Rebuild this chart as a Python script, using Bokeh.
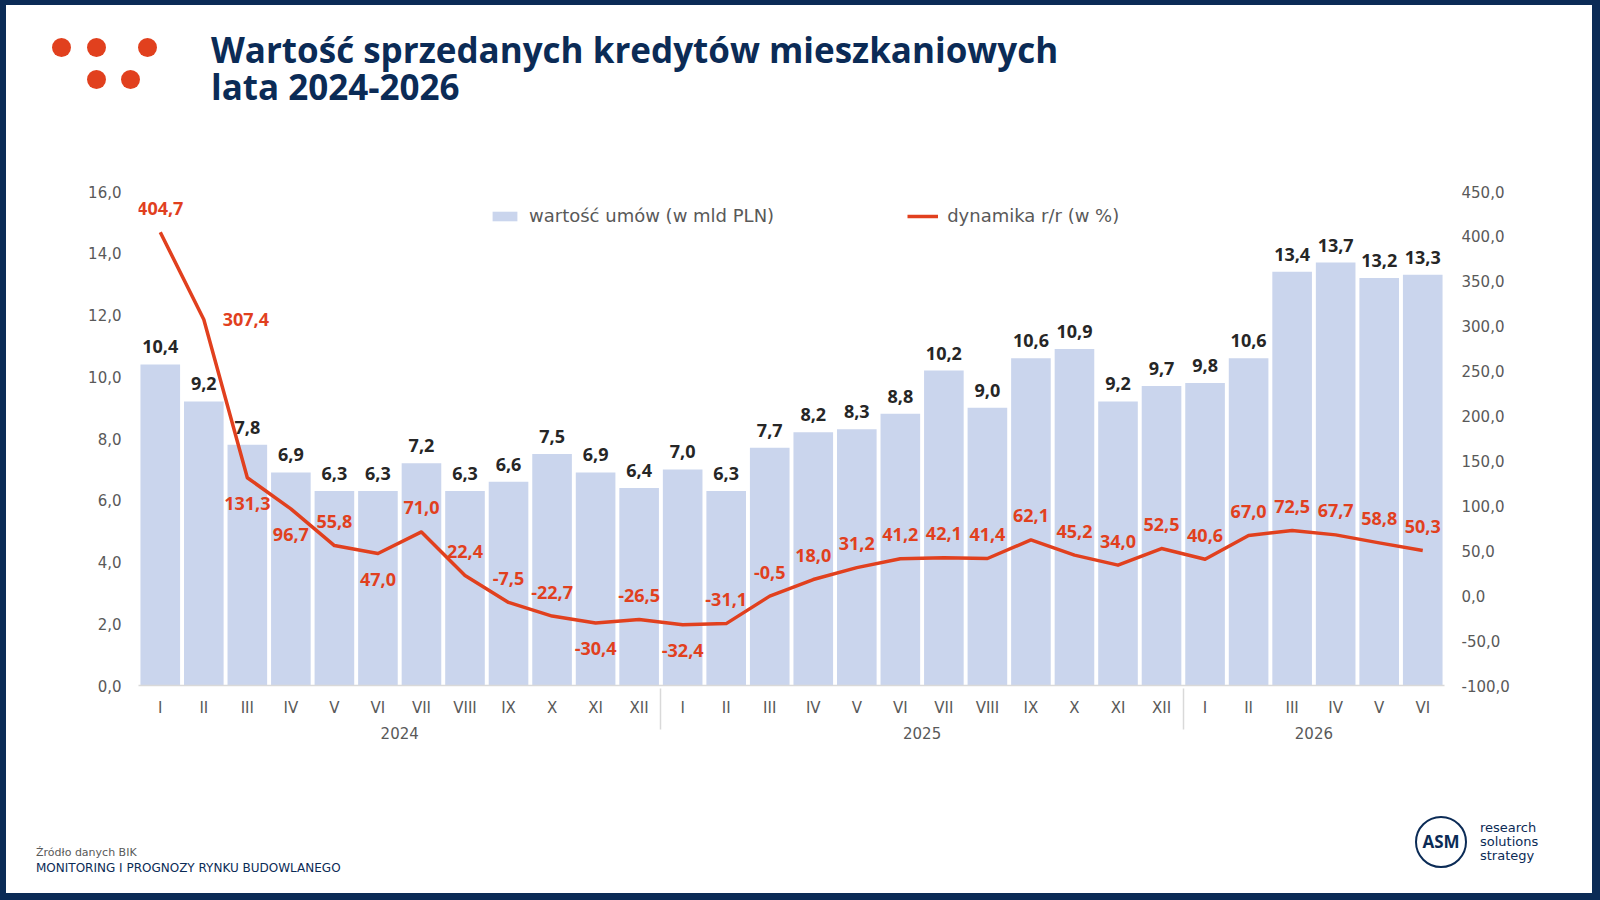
from bokeh.plotting import figure
from bokeh.layouts import row, column
from bokeh.models import (ColumnDataSource, FactorRange, Range1d, LinearAxis, FixedTicker,
                          CustomJSTickFormatter, LabelSet, Legend, LegendItem, Div)
from bokeh.core.properties import value
from bokeh.embed import file_html
from bokeh.resources import INLINE

# data
years = ["2024", "2025", "2026"]
months = ["I", "II", "III", "IV", "V", "VI", "VII", "VIII", "IX", "X", "XI", "XII"]
months_per_year = [12, 12, 6]
wartosc = [10.4, 9.2, 7.8, 6.9, 6.3, 6.3, 7.2, 6.3, 6.6, 7.5, 6.9, 6.4,
           7.0, 6.3, 7.7, 8.2, 8.3, 8.8, 10.2, 9.0, 10.6, 10.9, 9.2, 9.7,
           9.8, 10.6, 13.4, 13.7, 13.2, 13.3]
dynamika = [404.7, 307.4, 131.3, 96.7, 55.8, 47.0, 71.0, 22.4, -7.5, -22.7, -30.4, -26.5,
            -32.4, -31.1, -0.5, 18.0, 31.2, 41.2, 42.1, 41.4, 62.1, 45.2, 34.0, 52.5,
            40.6, 67.0, 72.5, 67.7, 58.8, 50.3]
left_ticks = [0, 2, 4, 6, 8, 10, 12, 14, 16]
right_ticks = [-100, -50, 0, 50, 100, 150, 200, 250, 300, 350, 400, 450]

# where each % label sits relative to its point (a=above, b=below, r=right)
dyn_side = ["a", "r", "b", "b", "a", "b", "a", "a", "a", "a", "b", "a",
            "b", "a", "a", "a", "a", "a", "a", "a", "a", "a", "a", "a",
            "a", "a", "a", "a", "a", "a"]

NAVY = "#0b2b56"
RED = "#e1401e"
BAR = "#cad5ed"
GRAY = "#595959"
BOLD_FONT = "Open Sans"
FONT = "DejaVu Sans"

# page split: strips left/right, header / chart / footer in between
SL, SR = 6, 8
IW = 1600 - SL - SR
H1, H2, H3 = 130, 655, 115


def fmt(v):
    return f"{v:.1f}".replace(".", ",")


factors = [(y, m) for y, n in zip(years, months_per_year) for m in months[:n]]

offx = {"a": 0, "b": 0, "r": 42}
offy = {"a": 24, "b": -26, "r": 0}

src = ColumnDataSource(data=dict(
    x=factors,
    top=wartosc,
    dyn=dynamika,
    top_txt=[fmt(v) for v in wartosc],
    dyn_txt=[fmt(v) for v in dynamika],
    dx=[offx[s] for s in dyn_side],
    dy=[offy[s] for s in dyn_side],
))


def box(x, y, w, h, extra=""):
    return (f'<div style="position:absolute;left:{x}px;top:{y}px;width:{w}px;'
            f'height:{h}px;{extra}"></div>')


def txt(x, y, s, extra):
    return (f'<div style="position:absolute;left:{x}px;top:{y}px;'
            f'white-space:nowrap;{extra}">{s}</div>')


# header: top border, dots, title
dots = [(61, 47), (96, 47), (147, 47), (96, 79), (130, 79)]
head_html = box(-SL, 0, 1600, 5, f"background:{NAVY}")
for cx, cy in dots:
    head_html += box(cx - SL - 9.5, cy - 9.5, 19, 19, f"border-radius:50%;background:{RED}")
title_style = (f"font-family:'{BOLD_FONT}';font-weight:bold;font-size:35px;"
               f"line-height:34px;height:34px;color:{NAVY}")
head_html += txt(211 - SL, 32.5, "Wartość sprzedanych kredytów mieszkaniowych", title_style)
head_html += txt(211 - SL, 69.5, "lata 2024-2026", title_style)
header = Div(text=f'<div style="position:relative;width:{IW}px;height:{H1}px;'
                  f'overflow:hidden;background:white">{head_html}</div>',
             width=IW, height=H1, margin=0)

# main chart
p = figure(width=IW, height=H2,
           x_range=FactorRange(*factors, factor_padding=0, group_padding=0,
                               subgroup_padding=0, range_padding=0),
           y_range=Range1d(0, 16),
           output_backend="svg", toolbar_location=None,
           min_border_left=138 - SL, min_border_right=IW - (1444 - SL),
           min_border_top=191 - H1, min_border_bottom=H2 - (685 - H1))
p.outline_line_color = None
p.xgrid.grid_line_color = None
p.ygrid.grid_line_color = None

p.extra_y_ranges = {"dyn": Range1d(-100, 450)}

tick_fmt = CustomJSTickFormatter(code="return tick.toFixed(1).replace('.', ',');")

ya = p.yaxis[0]
ya.ticker = FixedTicker(ticks=left_ticks)
ya.formatter = tick_fmt
ra = LinearAxis(y_range_name="dyn", ticker=FixedTicker(ticks=right_ticks), formatter=tick_fmt)
p.add_layout(ra, "right")
for ax in (ya, ra):
    ax.axis_line_color = None
    ax.major_tick_line_color = None
    ax.minor_tick_line_color = None
    ax.major_label_standoff = 11
    ax.major_label_text_font = FONT
    ax.major_label_text_font_size = "15px"
    ax.major_label_text_color = GRAY

xa = p.xaxis[0]
xa.axis_line_color = "#d9d9d9"
xa.axis_line_width = 1.5
xa.major_tick_line_color = None
xa.minor_tick_line_color = None
xa.major_label_standoff = 7
xa.major_label_text_font = FONT
xa.major_label_text_font_size = "15px"
xa.major_label_text_line_height = 1.8
xa.major_label_text_color = GRAY
xa.group_text_font = FONT
xa.group_text_font_size = "15px"
xa.group_text_font_style = "normal"
xa.group_text_color = GRAY
if hasattr(xa, "separator_line_color"):
    xa.separator_line_color = "#d9d9d9"
    xa.separator_line_width = 1.5

bars = p.vbar(x="x", top="top", width=0.91, source=src, color=BAR, line_color=None)
line = p.line(x="x", y="dyn", source=src, y_range_name="dyn",
              line_color=RED, line_width=3.5, line_join="round")

p.add_layout(LabelSet(x="x", y="top", text="top_txt", source=src, y_offset=11,
                      text_align="center", text_baseline="alphabetic",
                      text_font=value(BOLD_FONT), text_font_size="18px", text_font_style="bold",
                      text_color="#262626"))
p.add_layout(LabelSet(x="x", y="dyn", text="dyn_txt", source=src, y_range_name="dyn",
                      x_offset="dx", y_offset="dy",
                      text_align="center", text_baseline="middle",
                      text_font=value(BOLD_FONT), text_font_size="18px", text_font_style="bold",
                      text_color=RED))

legend = Legend(items=[LegendItem(label="wartość umów (w mld PLN)", renderers=[bars]),
                       LegendItem(label="dynamika r/r (w %)", renderers=[line])],
                orientation="horizontal", location=(351, 459),
                spacing=133, glyph_width=31, glyph_height=12, label_standoff=9,
                padding=0, margin=0, border_line_alpha=0, background_fill_alpha=0,
                label_text_font=FONT, label_text_font_size="18px", label_text_color=GRAY)
p.add_layout(legend, "center")

# footer: source note, logo, bottom border
y0 = 900 - H3
foot_html = txt(36 - SL, 856 - y0 - 9.3, "Źródło danych BIK",
                f"font-family:'{FONT}';font-size:11px;line-height:11px;color:{GRAY}")
foot_html += txt(36 - SL, 872 - y0 - 10.2, "MONITORING I PROGNOZY RYNKU BUDOWLANEGO",
                 f"font-family:'{FONT}';font-size:12px;line-height:12px;color:{NAVY}")
foot_html += (f'<div style="position:absolute;left:{1441 - SL - 26}px;top:{842 - y0 - 26}px;'
              f'width:52px;height:52px;box-sizing:border-box;border:2.5px solid {NAVY};'
              f'border-radius:50%;display:flex;align-items:center;justify-content:center;'
              f"font-family:'{BOLD_FONT}';font-weight:bold;font-size:17px;color:{NAVY}\">ASM</div>")
foot_html += txt(1480 - SL, 832 - y0 - 11.5, "research<br>solutions<br>strategy",
                 f"font-family:'{FONT}';font-size:13px;line-height:14px;color:{NAVY}")
foot_html += box(-SL, 893 - y0, 1600, 7, f"background:{NAVY}")
footer = Div(text=f'<div style="position:relative;width:{IW}px;height:{H3}px;'
                  f'overflow:hidden;background:white">{foot_html}</div>',
             width=IW, height=H3, margin=0)

left_strip = Div(text="", width=SL, height=900, margin=0, styles={"background-color": NAVY})
right_strip = Div(text="", width=SR, height=900, margin=0, styles={"background-color": NAVY})

page = row(left_strip, column(header, p, footer), right_strip)

open("out.html", "w").write(file_html(page, INLINE))
